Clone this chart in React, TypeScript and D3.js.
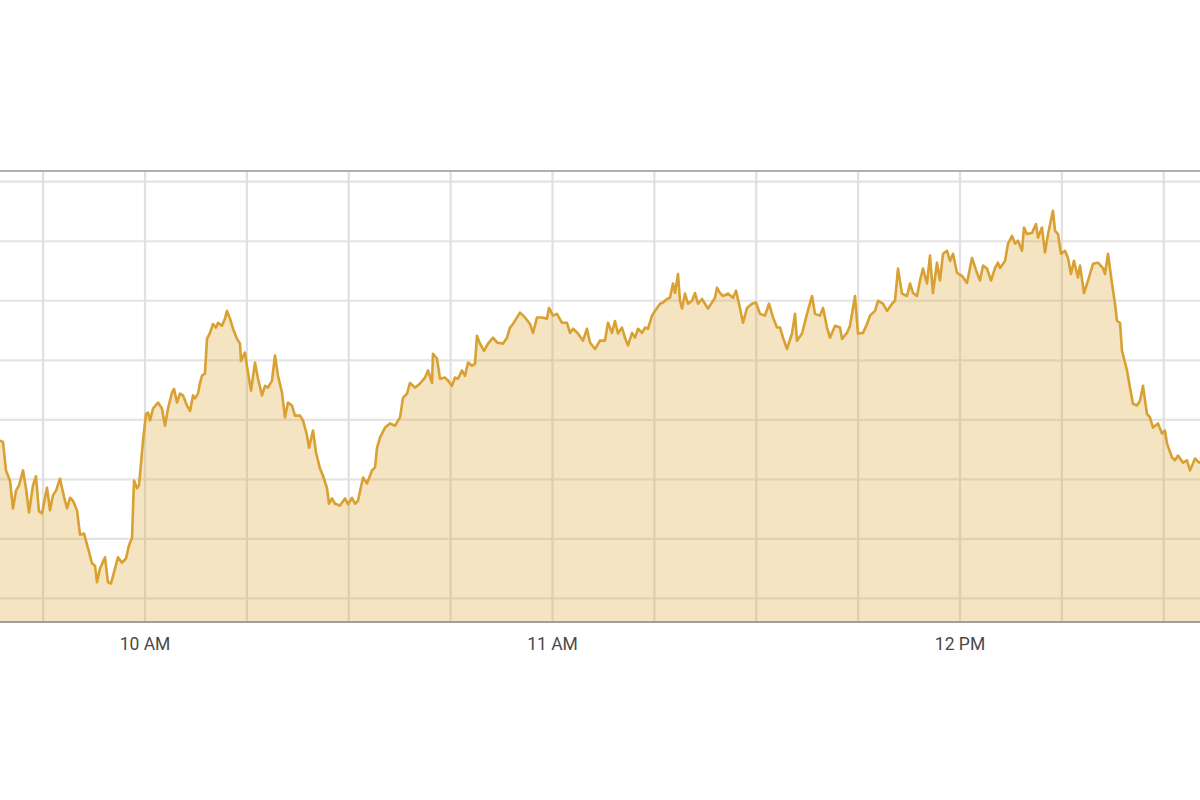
import React from "react";
import * as d3 from "d3";

// minutes after 9:30 AM
const minutes: number[] = [
  8.06, 8.65, 9.09, 9.53, 10.12, 10.56, 11.01, 11.45, 12.04, 12.48, 12.92, 13.51, 13.95, 14.39, 14.83,
  15.57, 16.01, 16.45, 16.9, 17.48, 18.07, 18.52, 18.96, 19.4, 19.99, 20.43, 21.02, 21.61, 22.2, 22.64,
  22.93, 23.37, 24.11, 24.55, 24.99, 25.44, 26.02, 26.61, 27.2, 27.64, 28.09, 28.38, 28.82, 29.12, 29.71,
  30.15, 30.44, 30.74, 31.18, 31.91, 32.5, 32.94, 33.39, 33.98, 34.27, 34.71, 35.15, 35.6, 36.18, 36.63,
  37.07, 37.36, 37.8, 38.1, 38.39, 38.83, 39.13, 39.57, 40.01, 40.45, 40.75, 41.34, 41.78, 42.07, 42.52,
  42.96, 43.55, 43.99, 44.13, 44.72, 45.17, 45.61, 46.2, 46.64, 47.23, 47.67, 48.11, 48.7, 49.14, 49.58,
  50.17, 50.61, 51.05, 51.64, 52.09, 52.82, 53.26, 53.85, 54.15, 54.74, 55.18, 55.77, 56.21, 56.8, 57.09,
  57.53, 57.98, 58.71, 59.45, 59.89, 60.48, 60.92, 61.36,
  62.1, 62.69, 63.42, 63.87, 64.16, 64.6, 65.34, 66.07, 66.81, 67.55, 67.99, 68.58, 69.02, 69.75, 70.49,
  71.23, 71.67, 72.26, 72.4, 72.99, 73.44, 74.17, 74.61, 75.2, 75.64, 76.09, 76.67, 77.12, 77.56, 78.15,
  78.59, 78.88, 79.33, 79.91, 80.5, 81.24, 81.83, 82.71, 83.3, 83.74, 84.18, 84.77, 85.21, 85.95, 86.69,
  87.13, 87.72, 88.45, 89.19, 89.48, 90.07, 90.66, 91.4, 92.13, 92.58, 93.02, 93.75,
  94.49, 95.08, 95.52, 96.26, 96.99, 97.73, 98.17, 98.76, 99.2, 99.64, 100.23, 100.67, 101.12, 101.71,
  102.15, 102.59, 103.18, 103.62, 104.06, 104.65, 105.09, 105.83, 106.27, 106.86, 107.3, 107.74, 108.04,
  108.48, 108.77, 109.07, 109.51, 109.95, 110.54, 110.98, 111.42, 112.01, 112.45, 112.9, 113.48, 113.93,
  114.22, 114.66, 115.1, 115.84, 116.58, 117.02, 117.46, 118.05, 118.64, 119.37, 119.96, 120.55, 121.29,
  121.88, 122.47, 123.06, 123.5, 123.94, 124.53, 125.26, 125.71, 126.0, 126.74, 127.47, 128.21, 128.65,
  129.39, 129.83, 130.42, 130.86, 131.6, 132.33, 132.63, 133.36, 133.8, 134.54, 134.98, 135.72, 136.31,
  136.75, 137.48, 137.93, 138.66, 139.25, 139.99, 140.43, 140.87, 141.46, 142.2, 142.64, 143.08, 143.67,
  144.11, 144.55, 145.14, 145.58, 146.02, 146.61, 147.05, 147.5, 148.09, 148.53, 148.97, 149.56, 150.29,
  151.03, 151.77, 152.5, 152.94, 153.39, 153.98, 154.56, 155.15,
  155.59, 155.89, 156.63, 157.07, 157.66, 158.1, 158.54, 159.13, 159.42, 159.86, 160.6, 161.19, 161.48,
  162.07, 162.51, 162.96, 163.69, 163.99, 164.43, 164.87, 165.46, 165.9, 166.34, 166.78, 167.37, 167.67,
  168.26, 168.85, 169.58, 170.32, 171.05, 171.35, 171.79, 172.38, 172.82, 173.12, 173.56, 173.85, 174.59,
  175.03, 175.47, 176.06, 176.5, 176.94, 177.53, 177.97, 178.42, 179.15, 179.74, 180.18, 180.48, 181.21,
  181.66, 182.1, 182.83, 183.42, 183.86, 184.6, 185.19, 186.07,
];

const prices: number[] = [
  1292.68, 1292.65, 1292.63, 1292.15, 1291.98, 1291.51, 1291.81, 1291.9, 1292.15, 1291.85, 1291.44, 1291.9, 1292.05, 1291.46, 1291.43,
  1291.86, 1291.48, 1291.73, 1291.81, 1292.01, 1291.71, 1291.51, 1291.69, 1291.64, 1291.48, 1291.07, 1291.09, 1290.84, 1290.59, 1290.55,
  1290.27, 1290.5, 1290.69, 1290.27, 1290.25, 1290.44, 1290.69, 1290.6, 1290.67, 1290.89, 1291.02, 1291.98, 1291.85, 1291.9, 1292.65,
  1293.1, 1293.12, 1292.99, 1293.19, 1293.29, 1293.19, 1292.9, 1293.19, 1293.46, 1293.52, 1293.29, 1293.44, 1293.41, 1293.24, 1293.15,
  1293.41, 1293.36, 1293.44, 1293.62, 1293.74, 1293.78, 1294.36, 1294.46, 1294.61, 1294.55, 1294.63, 1294.58, 1294.7, 1294.83, 1294.7,
  1294.53, 1294.36, 1294.28, 1293.99, 1294.13, 1293.79, 1293.49, 1293.96, 1293.69, 1293.41, 1293.57, 1293.54, 1293.66, 1294.08, 1293.74,
  1293.46, 1293.04, 1293.29, 1293.24, 1293.07, 1293.07, 1292.99, 1292.74, 1292.53, 1292.82, 1292.45, 1292.18, 1292.06, 1291.85, 1291.59,
  1291.68, 1291.59, 1291.56, 1291.68, 1291.58, 1291.69, 1291.59, 1291.64,
  1292.03, 1291.93, 1292.15, 1292.2, 1292.53, 1292.7, 1292.87, 1292.94, 1292.9, 1293.04, 1293.37, 1293.44, 1293.62, 1293.54, 1293.61,
  1293.71, 1293.83, 1293.62, 1294.11, 1294.03, 1293.69, 1293.71, 1293.66, 1293.57, 1293.71, 1293.69, 1293.83, 1293.74, 1293.96, 1293.91,
  1293.94, 1294.41, 1294.28, 1294.16, 1294.28, 1294.38, 1294.3, 1294.28, 1294.38, 1294.55, 1294.61, 1294.72, 1294.8, 1294.72, 1294.61,
  1294.46, 1294.72, 1294.72, 1294.7, 1294.88, 1294.75, 1294.78, 1294.63, 1294.63, 1294.46, 1294.53, 1294.45,
  1294.33, 1294.53, 1294.3, 1294.19, 1294.33, 1294.33, 1294.63, 1294.46, 1294.66, 1294.45, 1294.55, 1294.38, 1294.25, 1294.46,
  1294.38, 1294.53, 1294.46, 1294.55, 1294.53, 1294.75, 1294.83, 1294.95, 1294.97, 1295.03, 1295.05, 1295.29, 1295.13,
  1295.45, 1295.0, 1294.87, 1295.12, 1294.95, 1295.0, 1295.13, 1294.95, 1295.03, 1294.95, 1294.87, 1294.97, 1295.05,
  1295.22, 1295.13, 1295.08, 1295.12, 1295.05, 1295.17, 1294.95, 1294.63, 1294.88, 1294.95, 1294.97, 1294.78, 1294.75,
  1294.95, 1294.72, 1294.55, 1294.55, 1294.38, 1294.19, 1294.45, 1294.78, 1294.33, 1294.45, 1294.78, 1295.08, 1294.78,
  1294.75, 1294.88, 1294.55, 1294.38, 1294.58, 1294.55, 1294.36, 1294.46, 1294.58, 1295.08, 1294.45, 1294.46, 1294.61,
  1294.75, 1294.83, 1295.0, 1294.95, 1294.83, 1294.95, 1295.0, 1295.54, 1295.12, 1295.08, 1295.29, 1295.13, 1295.08,
  1295.34, 1295.54, 1295.29, 1295.76, 1295.13, 1295.64, 1295.34, 1295.79, 1295.84, 1295.67, 1295.79, 1295.47, 1295.42,
  1295.3, 1295.72, 1295.47, 1295.34, 1295.59, 1295.54, 1295.34, 1295.55,
  1295.64, 1295.55, 1295.67, 1295.96, 1296.09, 1295.96, 1296.01, 1295.84, 1296.23, 1296.12, 1296.14, 1296.29, 1296.06,
  1296.23, 1295.81, 1296.12, 1296.51, 1296.18, 1296.12, 1295.79, 1295.84, 1295.72, 1295.45, 1295.67, 1295.39, 1295.59,
  1295.13, 1295.34, 1295.62, 1295.64, 1295.55, 1295.45, 1295.79, 1295.29, 1294.95, 1294.66, 1294.63, 1294.16, 1293.83,
  1293.54, 1293.27, 1293.24, 1293.32, 1293.57, 1293.1, 1293.04, 1292.87, 1292.94, 1292.77, 1292.82, 1292.6, 1292.37,
  1292.32, 1292.4, 1292.28, 1292.32, 1292.15, 1292.35, 1292.28, 1292.32,
];

const priceTicks: number[] = [1290, 1291, 1292, 1293, 1294, 1295, 1296, 1297];
const hourLabels: string[] = ["10 AM", "11 AM", "12 PM"];

const BASE = new Date(2019, 0, 2, 9, 30, 0);
const at = (m: number) => new Date(BASE.getTime() + m * 60000);

export default function App() {
  const W = 1200;
  const H = 800;
  const top = 171;
  const bottom = 621;

  const x = d3.scaleTime().domain([at(30), at(150)]).range([145, 960]);
  const y = d3.scaleLinear().domain([1289.62, 1297.18]).range([bottom, top]);

  const data = minutes.map((m, i) => ({ t: at(m), v: prices[i] }));

  const area = d3
    .area<{ t: Date; v: number }>()
    .x((d) => x(d.t))
    .y0(bottom)
    .y1((d) => y(d.v));
  const line = d3
    .line<{ t: Date; v: number }>()
    .x((d) => x(d.t))
    .y((d) => y(d.v));

  const gridTimes = d3.timeMinute.every(15)!.range(at(0), at(195));
  const hourTimes = d3.timeHour.every(1)!.range(at(30), at(151));
  const fmt = d3.timeFormat("%-I %p");

  return (
    <div style={{ position: "absolute", left: 0, top: 0, width: W, height: H, background: "#fff" }}>
      <svg width={W} height={H} style={{ display: "block" }}>
        {priceTicks.map((p) => (
          <line key={"h" + p} x1={0} x2={W} y1={y(p)} y2={y(p)} stroke="#e4e4e4" strokeWidth={2.2} />
        ))}
        {gridTimes.map((t) => (
          <line key={"v" + t.getTime()} x1={x(t)} x2={x(t)} y1={top} y2={bottom} stroke="#e0e0e0" strokeWidth={2.2} />
        ))}
        <path d={area(data) ?? ""} fill="#d9a535" fillOpacity={0.3} />
        <path d={line(data) ?? ""} fill="none" stroke="#d9a032" strokeWidth={2.6} strokeLinejoin="round" />
        <line x1={0} x2={W} y1={top} y2={top} stroke="#b0b0b0" strokeWidth={2} />
        <line x1={0} x2={W} y1={bottom + 1} y2={bottom + 1} stroke="#9e9e9e" strokeWidth={2.2} />
        {hourTimes.map((t, i) => (
          <text
            key={"l" + i}
            x={x(t)}
            y={650}
            textAnchor="middle"
            fontFamily="Roboto, 'Noto Sans', sans-serif"
            fontSize={17.5}
            fill="#4a4a4a"
          >
            {hourLabels[i] ?? fmt(t)}
          </text>
        ))}
      </svg>
    </div>
  );
}
